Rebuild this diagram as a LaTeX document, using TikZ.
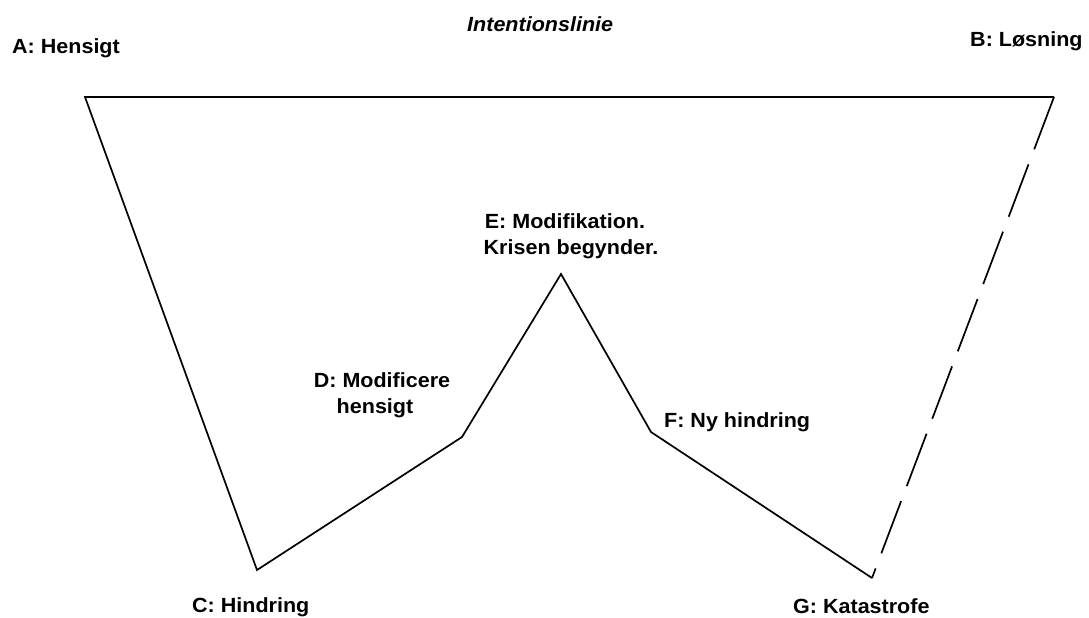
\documentclass[tikz,border=0pt]{standalone}
\usepackage{fontspec}
\setmainfont{Liberation Sans}[FakeStretch=1.05]
\begin{document}
\begin{tikzpicture}[x=1pt,y=-1pt,
  lbl/.style={font=\bfseries\fontsize{20.5}{23}\selectfont, inner sep=0pt, anchor=base west},
  lblc/.style={font=\bfseries\fontsize{20.5}{23}\selectfont, inner sep=0pt, anchor=base},
  plotline/.style={line width=1.7pt, line join=miter},
  dashline/.style={line width=1.7pt, dash pattern=on 56pt off 16pt}]
\useasboundingbox[fill=white] (0,0) rectangle (1089,618);
\coordinate (A) at (85,97);
\coordinate (B) at (1054,97);
\coordinate (C) at (257,570);
\coordinate (D) at (462,437);
\coordinate (E) at (561,274);
\coordinate (F) at (651,432);
\coordinate (G) at (872,578);
\draw[plotline] (B) -- (A) -- (C) -- (D) -- (E) -- (F) -- (G);
\draw[dashline] (B) -- (G);
\node[lbl] (tA) at (12,53) {A: Hensigt};
\node[lbl, font=\bfseries\itshape\fontsize{20.5}{23}\selectfont] (tI) at (467,32) {Intentionslinie};
\node[lbl] (tB) at (970,47) {B: Løsning};
\node[lblc] (tE1) at (565,228) {E: Modifikation.};
\node[lblc] (tE2) at (571,254) {Krisen begynder.};
\node[lblc] (tD1) at (382,387) {D: Modificere};
\node[lblc] (tD2) at (375,413) {hensigt};
\node[lbl] (tF) at (664,427) {F: Ny hindring};
\node[lbl] (tC) at (192,612) {C: Hindring};
\node[lbl] (tG) at (793,613) {G: Katastrofe};
\end{tikzpicture}
\end{document}
